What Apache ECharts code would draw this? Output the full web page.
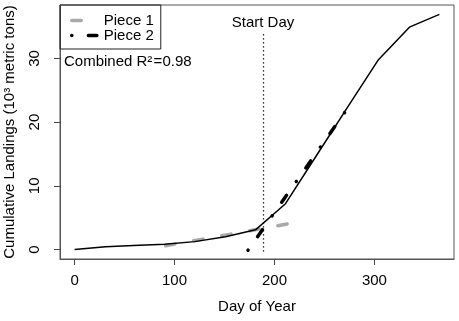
<!DOCTYPE html>
<html>
<head>
<meta charset="utf-8">
<script src="https://cdn.jsdelivr.net/npm/echarts@6/dist/echarts.min.js"></script>
<style>
  html, body { margin: 0; padding: 0; background: #fff; }
  #chart { width: 459px; height: 321px; }
</style>
</head>
<body>
<div id="chart"></div>
<script>
// cumulative landings (10^3 metric tons) by day of year
const days = [0, 31, 59, 90, 120, 151, 181, 211, 243, 273, 304, 335, 365];
const landings = [0, 0.45, 0.65, 0.85, 1.25, 2.0, 3.1, 7.2, 15.0, 22.3, 29.8, 34.9, 36.9];

// the two fitted pieces
const piece1Days = [91, 218];
const piece1Vals = [0.6, 4.15];
const piece2Days = [173.5, 276];
const piece2Vals = [-0.1, 22.8];

const startDay = 188.5;
const xTicks = [0, 100, 200, 300];
const yTicks = [0, 10, 20, 30];
const r2Text = 'Combined R\u00b2\u200a=0.98';

const font = 'Liberation Sans, Arial, sans-serif';
const pair = (xs, ys) => xs.map((x, i) => [x, ys[i]]);

// R style axis range: data range plus 4% each side
const pad = (lo, hi) => [lo - (hi - lo) * 0.04, hi + (hi - lo) * 0.04];
const xr = pad(0, Math.max(...days));
const yr = pad(0, Math.max(...landings));

const frame = '#555';

const chart = echarts.init(document.getElementById('chart'));
chart.setOption({
  animation: false,
  textStyle: { fontFamily: font, color: '#000' },
  grid: {
    left: 60, right: 5, top: 5, bottom: 62,
    outerBoundsMode: 'none', containLabel: false,
    show: true, borderColor: frame, borderWidth: 1
  },
  xAxis: {
    type: 'value', min: xr[0], max: xr[1],
    name: 'Day of Year', nameLocation: 'middle', nameGap: 40,
    nameTextStyle: { fontSize: 15, color: '#000' },
    axisLine: { show: true, onZero: false, lineStyle: { color: frame, width: 1 } },
    splitLine: { show: false },
    axisTick: { show: true, length: 6, lineStyle: { color: '#444', width: 1 }, customValues: xTicks },
    axisLabel: { fontSize: 15, color: '#000', margin: 14, customValues: xTicks }
  },
  yAxis: {
    type: 'value', min: yr[0], max: yr[1],
    name: 'Cumulative Landings (10\u00b3 metric tons)', nameLocation: 'middle', nameGap: 43,
    nameTextStyle: { fontSize: 15, color: '#000' },
    axisLine: { show: true, onZero: false, lineStyle: { color: frame, width: 1 } },
    splitLine: { show: false },
    axisTick: { show: true, length: 6, lineStyle: { color: '#444', width: 1 }, customValues: yTicks },
    axisLabel: { fontSize: 15, color: '#000', margin: 18, rotate: 90, customValues: yTicks }
  },
  legend: {
    data: ['Piece 1', 'Piece 2'],
    orient: 'vertical', left: 60, top: 5,
    padding: [8, 7, 6, 10],
    itemWidth: 27, itemHeight: 14, itemGap: 0,
    borderColor: '#222', borderWidth: 1, borderRadius: 0,
    itemStyle: { opacity: 0 },
    lineStyle: { width: 3.5 },
    textStyle: { fontSize: 15, color: '#000', lineHeight: 14 }
  },
  graphic: [{
    type: 'text', left: 64, top: 54,
    style: { text: r2Text, font: '15px ' + font, fill: '#000' }
  }],
  series: [
    {
      name: 'Landings', type: 'line', data: pair(days, landings),
      symbol: 'none', z: 3,
      lineStyle: { color: '#000', width: 1.5 },
      markLine: {
        silent: true, symbol: 'none',
        lineStyle: { color: '#000', width: 1.3, type: [1.3, 2.7] },
        label: { show: true, position: 'end', formatter: 'Start Day', fontSize: 15, color: '#000', fontFamily: font, distance: 3 },
        data: [[{ coord: [startDay, -0.3] }, { coord: [startDay, 34] }]]
      }
    },
    {
      name: 'Piece 1', type: 'line', data: pair(piece1Days, piece1Vals),
      symbol: 'none', z: 2, itemStyle: { color: '#a9a9a9' },
      lineStyle: { color: '#a9a9a9', width: 3.5, type: [9.5, 19], cap: 'round' }
    },
    {
      name: 'Piece 2', type: 'line', data: pair(piece2Days, piece2Vals),
      symbol: 'none', z: 4, itemStyle: { color: '#000' },
      lineStyle: { color: '#000', width: 3.5, type: [0.1, 16.5, 8.5, 16.9], cap: 'round' }
    }
  ]
});
</script>
</body>
</html>
